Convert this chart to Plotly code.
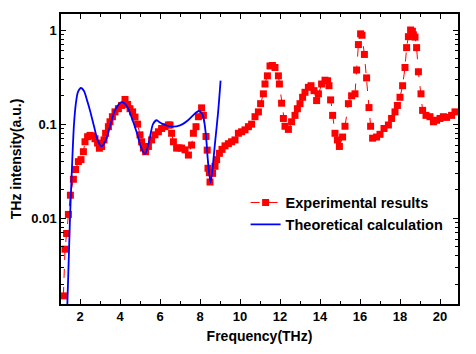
import plotly.graph_objects as go

exp_x = [1.17, 1.25, 1.33, 1.42, 1.52, 1.67, 1.78, 1.92, 2.05, 2.17, 2.25, 2.38, 2.5, 2.62, 2.75, 2.88, 2.97,
         3.08, 3.2, 3.28, 3.42, 3.5, 3.62, 3.75, 3.92, 4.08, 4.25, 4.38, 4.5, 4.63, 4.75, 4.88, 5.0, 5.08, 5.17, 5.28,
         5.42, 5.58, 5.75, 5.92, 6.08, 6.25, 6.42, 6.5, 6.58, 6.67, 6.83, 6.95, 7.08, 7.25, 7.42, 7.58, 7.67, 7.8, 7.92,
         8.08, 8.17, 8.3, 8.36, 8.4, 8.47, 8.5, 8.63, 8.75, 8.83, 8.97, 9.1, 9.25, 9.42, 9.58, 9.75, 9.92, 10.08, 10.25,
         10.42, 10.58, 10.75, 10.92, 11.03, 11.17, 11.25, 11.37, 11.5, 11.62, 11.75, 11.92, 11.97, 12.08, 12.17, 12.25,
         12.42, 12.58, 12.75, 12.87, 13.0, 13.13, 13.25, 13.42, 13.55, 13.7, 13.83, 13.92, 14.08, 14.25, 14.38, 14.45,
         14.53, 14.63, 14.75, 14.87, 14.97, 15.13, 15.25, 15.42, 15.58, 15.75, 15.83, 15.92, 16.03, 16.1, 16.22, 16.33,
         16.45, 16.53, 16.63, 16.83, 17.0, 17.2, 17.42, 17.58, 17.75, 17.87, 18.0, 18.13, 18.25, 18.33, 18.42, 18.53,
         18.62, 18.67, 18.75, 18.83, 18.92, 19.05, 19.13, 19.3, 19.5, 19.67, 19.83, 20.0, 20.17, 20.33, 20.58, 20.75]
exp_y = [0.0015, 0.0047, 0.0069, 0.011, 0.0176, 0.026, 0.033, 0.040, 0.042, 0.051, 0.065, 0.0736, 0.076, 0.075, 0.070, 0.063, 0.0555,
         0.058, 0.068, 0.080, 0.094, 0.106, 0.120, 0.135, 0.146, 0.158, 0.183, 0.162, 0.146, 0.135, 0.119, 0.100, 0.077, 0.065, 0.0557, 0.051,
         0.058, 0.068, 0.077, 0.083, 0.090, 0.094, 0.098, 0.098, 0.080, 0.065, 0.0557, 0.056, 0.0557, 0.0534, 0.047, 0.060, 0.080, 0.094, 0.120,
         0.149, 0.124, 0.074, 0.053, 0.034, 0.0305, 0.0243, 0.030, 0.0357, 0.042, 0.049, 0.054, 0.0588, 0.062, 0.065, 0.068, 0.080, 0.083, 0.087,
         0.094, 0.100, 0.120, 0.135, 0.165, 0.210, 0.267, 0.326, 0.415, 0.42, 0.40, 0.326, 0.267, 0.167, 0.115, 0.095,
         0.088, 0.106, 0.124, 0.146, 0.165, 0.193, 0.218, 0.246, 0.256, 0.227, 0.178, 0.210, 0.267, 0.293, 0.289, 0.256,
         0.181, 0.124, 0.080, 0.068, 0.058, 0.073, 0.095, 0.165, 0.200, 0.210, 0.376, 0.70, 0.91, 0.88, 0.55, 0.31,
         0.15, 0.095, 0.071, 0.073, 0.078, 0.090, 0.098, 0.115, 0.135, 0.158, 0.193, 0.256, 0.40, 0.65, 0.85, 1.0,
         0.97, 0.89, 0.84, 0.65, 0.36, 0.21, 0.14, 0.124, 0.120, 0.106, 0.110, 0.115, 0.120, 0.118, 0.124, 0.135]

theo_x = [1.36, 1.45, 1.5, 1.6, 1.7, 1.8, 1.9, 2.05, 2.2, 2.35, 2.5, 2.7, 2.9, 3.08, 3.3, 3.5, 3.75, 4.08, 4.35, 4.6,
          4.85, 5.05, 5.25, 5.45, 5.65, 5.83, 6.0, 6.25, 6.6, 7.0, 7.4, 7.75, 7.95, 8.1, 8.2, 8.3, 8.4, 8.53, 8.65, 8.75,
          8.9, 9.03]
theo_y = [0.0011, 0.0045, 0.010, 0.035, 0.10, 0.17, 0.22, 0.242, 0.225, 0.18, 0.14, 0.095, 0.066, 0.058, 0.068, 0.095,
          0.14, 0.171, 0.155, 0.115, 0.080, 0.057, 0.048, 0.065, 0.10, 0.11, 0.104, 0.098, 0.094, 0.097, 0.11, 0.13, 0.138,
          0.13, 0.11, 0.075, 0.040, 0.024, 0.038, 0.063, 0.13, 0.29]

fig = go.Figure()
fig.add_trace(go.Scatter(
    x=exp_x, y=exp_y, mode="lines+markers", name="Experimental results",
    line=dict(color="#ff0000", width=1, dash="dash"),
    marker=dict(symbol="square", size=7, color="#ff0000"),
))
fig.add_trace(go.Scatter(
    x=theo_x, y=theo_y, mode="lines", name="Theoretical calculation",
    line=dict(color="#0000ff", width=1.8, shape="spline", smoothing=0.8),
))

font = "Liberation Sans, Arial, sans-serif"
minor_y = [m * 10 ** e for e in (-3, -2, -1) for m in range(2, 10)]
fig.update_layout(
    width=476, height=354,
    margin=dict(l=61, r=18, t=12, b=48),
    paper_bgcolor="white", plot_bgcolor="white",
    font=dict(family=font, size=13, color="black"),
    showlegend=True,
    legend=dict(x=0.465, y=0.405, xanchor="left", yanchor="top", bgcolor="rgba(0,0,0,0)",
                font=dict(family=font, size=14.5, color="black", weight="bold"),
                tracegroupgap=0, itemwidth=30),
)
fig.update_xaxes(
    range=[1.05, 20.9], showgrid=False, zeroline=False,
    showline=True, linecolor="black", linewidth=1.5, mirror="allticks",
    ticks="inside", ticklen=5, tickwidth=1.2, tickcolor="black",
    tickvals=[2, 4, 6, 8, 10, 12, 14, 16, 18, 20],
    tickfont=dict(family=font, size=13, color="black", weight="bold"),
    minor=dict(ticks="inside", ticklen=3, tickwidth=1.2, tickcolor="black",
               tickvals=[3, 5, 7, 9, 11, 13, 15, 17, 19]),
    title=dict(text="Frequency(THz)", font=dict(family=font, size=14, color="black", weight="bold"), standoff=8),
)
fig.update_yaxes(
    type="log", range=[-2.91, 0.17], showgrid=False, zeroline=False,
    showline=True, linecolor="black", linewidth=1.5, mirror="allticks",
    ticks="inside", ticklen=5, tickwidth=1.2, tickcolor="black",
    tickvals=[0.01, 0.1, 1], ticktext=["0.01", "0.1", "1"],
    tickfont=dict(family=font, size=13, color="black", weight="bold"),
    minor=dict(ticks="inside", ticklen=3, tickwidth=1.2, tickcolor="black", tickvals=minor_y),
    title=dict(text="THz intensity(a.u.)", font=dict(family=font, size=14, color="black", weight="bold"), standoff=6),
)

fig.write_html("out.html")
